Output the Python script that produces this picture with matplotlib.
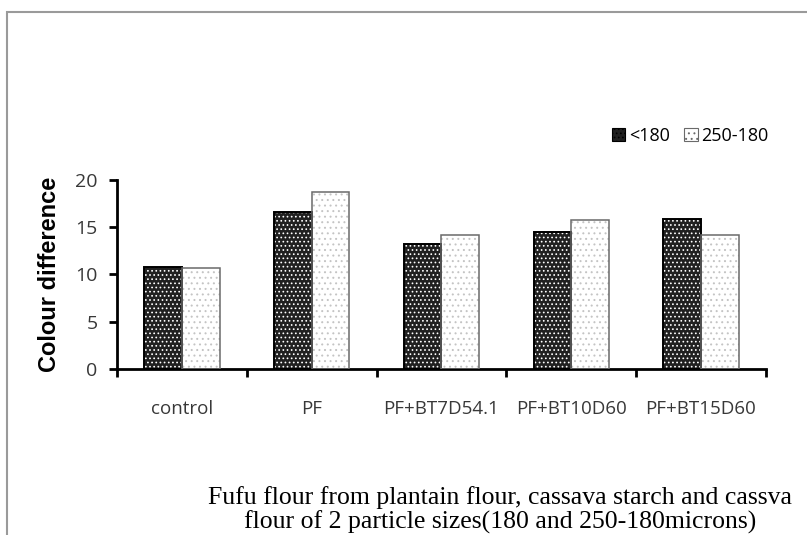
"""Colour difference of fufu flours, two particle sizes."""
import matplotlib
matplotlib.use("Agg")
import matplotlib.pyplot as plt
from matplotlib.patches import Rectangle
import numpy as np

categories = ["control", "PF", "PF+BT7D54.1", "PF+BT10D60", "PF+BT15D60"]
fine_vals = [10.8, 16.6, 13.2, 14.5, 15.9]      # <180
coarse_vals = [10.7, 18.7, 14.2, 15.8, 14.2]    # 250-180
series_names = ["<180", "250-180"]
y_ticks = [0, 5, 10, 15, 20]
caption = ("Fufu flour from plantain flour, cassava starch and cassva\n"
           "flour of 2 particle sizes(180 and 250-180microns)")

plt.rcParams["hatch.linewidth"] = 0.7

fig = plt.figure(figsize=(8.07, 5.35), dpi=100)
ax = fig.add_axes([0.145, 0.3103, 0.804, 0.3533])

x = np.arange(len(categories))
w = 0.29

# dark checker bars: white dots on near-black
plt.rcParams["hatch.color"] = "white"
ax.bar(x - w / 2, fine_vals, w, color="#202020", hatch="....",
       edgecolor="white", linewidth=0, zorder=2)
ax.bar(x - w / 2, fine_vals, w, fill=False, edgecolor="black",
       linewidth=1.4, zorder=3)
# light dotted bars
ax.bar(x + w / 2, coarse_vals, w, color="white", hatch="...",
       edgecolor="#c4c4c4", linewidth=0, zorder=2)
ax.bar(x + w / 2, coarse_vals, w, fill=False, edgecolor="#6a6a6a",
       linewidth=1.1, zorder=3)

ax.set_xlim(-0.5, len(categories) - 0.5)
ax.set_ylim(0, 20)
ax.set_yticks(y_ticks)
ax.set_yticklabels([str(t) for t in y_ticks], fontsize=14,
                   color="#383838", family="Open Sans")
# tick marks between groups, labels under group centres
ax.set_xticks(np.arange(len(categories) + 1) - 0.5)
ax.set_xticklabels([])
ax.set_xticks(x, minor=True)
ax.set_xticklabels(categories, minor=True, fontsize=13.5,
                   color="#383838", family="Open Sans")
ax.tick_params(axis="both", which="major", direction="out", length=6,
               width=2, color="black")
ax.tick_params(axis="x", which="minor", length=0, pad=22)
ax.tick_params(axis="y", pad=8)

for side in ("top", "right"):
    ax.spines[side].set_visible(False)
for side in ("left", "bottom"):
    ax.spines[side].set_linewidth(2)
    ax.spines[side].set_color("black")

ax.set_ylabel("Colour difference", fontsize=17, fontweight="bold",
              family="Liberation Sans", labelpad=10)

# legend
h1 = Rectangle((0, 0), 1, 1, facecolor="#202020", hatch="....",
               edgecolor="black", linewidth=0.8)
h2 = Rectangle((0, 0), 1, 1, facecolor="white", hatch="...",
               edgecolor="#6a6a6a", linewidth=0.8)
fig.legend([h1, h2], series_names, loc="center left",
           bbox_to_anchor=(0.738, 0.746), ncol=2, frameon=False,
           handlelength=0.75, handleheight=0.75, handletextpad=0.2,
           columnspacing=0.8, prop={"family": "Open Sans", "size": 13})

# grey frame of the original figure
fig.patches.append(Rectangle((7 / 807, -0.1), 1.2, 0.1 + (1 - 12 / 535),
                             transform=fig.transFigure, fill=False,
                             edgecolor="#9a9a9a", linewidth=1.5))

fig.text(500 / 807, 1 - 510 / 535, caption, ha="center", va="center",
         fontsize=18.5, family="Liberation Serif", linespacing=1.05)

fig.savefig("out.png", dpi=100, facecolor="white")
